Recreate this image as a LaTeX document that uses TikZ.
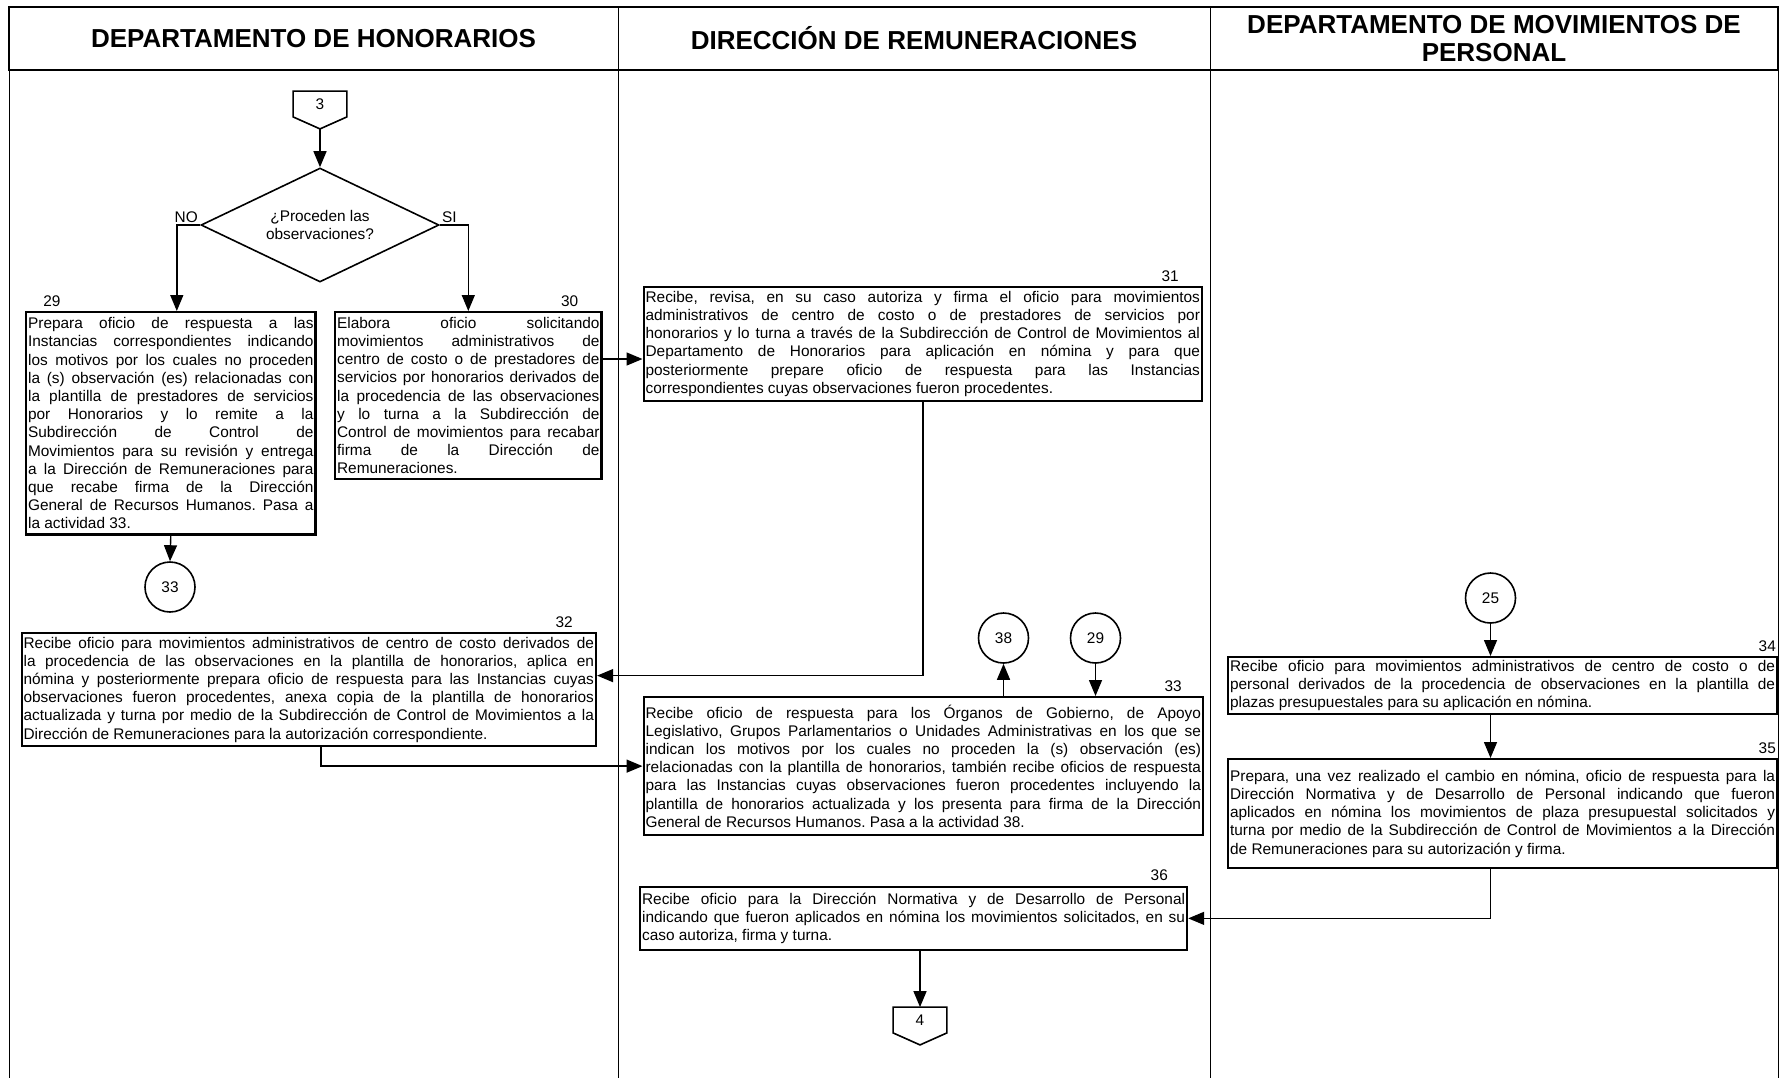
\documentclass[tikz,border=0pt]{standalone}
\usepackage{fontspec}
\setmainfont{Liberation Sans}
\usetikzlibrary{arrows.meta,shapes.geometric}

% letra de las cajas de actividad
\newcommand{\textocaja}{\fontsize{7.7}{9.1}\selectfont\frenchspacing\hyphenpenalty=10000\tolerance=9999\relax}

\begin{document}
\begin{tikzpicture}[x=0.5pt,y=-0.5pt,
    caja/.style={draw, line width=1.1pt, anchor=north west, inner sep=1pt, align=justify, font=\textocaja},
    titulo/.style={align=center, font=\fontsize{13}{14}\selectfont\bfseries},
    num/.style={inner sep=2pt, anchor=south east, font=\textocaja},
    circulo/.style={draw, circle, line width=0.8pt, minimum size=25pt, inner sep=0pt, font=\textocaja},
    conector/.style={minimum width=26.5pt, minimum height=12.5pt, inner sep=0pt, font=\textocaja},
    decision/.style={draw, diamond, aspect=2, line width=0.8pt, minimum width=119pt, minimum height=57pt, inner sep=0pt, align=center, font=\textocaja},
    flecha/.style={-{Triangle[length=8pt,width=6.5pt]}, line width=0.7pt}]
    \useasboundingbox (0,0) rectangle (1780,1078);
    % Dibuja el encabezado y las columnas
    \draw[line width=0.9pt] (9,7) rectangle (1778,70);
    \draw[line width=0.5pt] (9,7) -- (9,1078) (618,7) -- (618,1078) (1210,7) -- (1210,1078) (1778,7) -- (1778,1078);
    \node[titulo] (h1) at (313.5,38.5) {DEPARTAMENTO DE HONORARIOS};
    \node[titulo] (h2) at (914,38.5) {DIRECCIÓN DE REMUNERACIONES};
    \node[titulo] (h3) at (1494,39) {DEPARTAMENTO DE MOVIMIENTOS DE\\PERSONAL};

    % Departamento de Honorarios
    \node[conector] (c3) at (320,104) {3};
    \node[decision] (d1) at (320,225) {¿Proceden las\\observaciones?};
    \node[inner sep=1pt, anchor=south east, font=\textocaja] (no) at (d1.west) {NO};
    \node[inner sep=1pt, anchor=south west, font=\textocaja] (si) at (d1.east) {SI};
    \node[caja, text width=142.7pt, minimum height=111.2pt] (b29) at (25,311) {Prepara oficio de respuesta a las\linebreak
        Instancias correspondientes indicando\linebreak
        los motivos por los cuales no proceden\linebreak
        la (s) observación (es) relacionadas con\linebreak
        la plantilla de prestadores de servicios\linebreak
        por Honorarios y lo remite a la\linebreak
        Subdirección de Control de\linebreak
        Movimientos para su revisión y entrega\linebreak
        a la Dirección de Remuneraciones para\linebreak
        que recabe firma de la Dirección\linebreak
        General de Recursos Humanos. Pasa a\linebreak
        la actividad 33.};
    \node[caja, text width=131.2pt, minimum height=83.5pt] (b30) at (334,311) {Elabora oficio solicitando\linebreak
        movimientos administrativos de\linebreak
        centro de costo o de prestadores de\linebreak
        servicios por honorarios derivados de\linebreak
        la procedencia de las observaciones\linebreak
        y lo turna a la Subdirección de\linebreak
        Control de movimientos para recabar\linebreak
        firma de la Dirección de\linebreak
        Remuneraciones.};
    \node[circulo] (c33) at (170,587) {33};
    \node[caja, text width=285.2pt, minimum height=56.5pt] (b32) at (20.5,632) {Recibe oficio para movimientos administrativos de centro de costo derivados de\linebreak
        la procedencia de las observaciones en la plantilla de honorarios, aplica en\linebreak
        nómina y posteriormente prepara oficio de respuesta para las Instancias cuyas\linebreak
        observaciones fueron procedentes, anexa copia de la plantilla de honorarios\linebreak
        actualizada y turna por medio de la Subdirección de Control de Movimientos a la\linebreak
        Dirección de Remuneraciones para la autorización correspondiente.};

    % Dirección de Remuneraciones
    \node[caja, text width=277.2pt, minimum height=56.75pt] (b31) at (642.5,286) {Recibe, revisa, en su caso autoriza y firma el oficio para movimientos\linebreak
        administrativos de centro de costo o de prestadores de servicios por\linebreak
        honorarios y lo turna a través de la Subdirección de Control de Movimientos al\linebreak
        Departamento de Honorarios para aplicación en nómina y para que\linebreak
        posteriormente prepare oficio de respuesta para las Instancias\linebreak
        correspondientes cuyas observaciones fueron procedentes.};
    \node[circulo] (c38) at (1003.5,638) {38};
    \node[circulo] (c29) at (1095.5,638) {29};
    \node[caja, text width=277.7pt, minimum height=69pt] (b33) at (642.5,696) {Recibe oficio de respuesta para los Órganos de Gobierno, de Apoyo\linebreak
        Legislativo, Grupos Parlamentarios o Unidades Administrativas en los que se\linebreak
        indican los motivos por los cuales no proceden la (s) observación (es)\linebreak
        relacionadas con la plantilla de honorarios, también recibe oficios de respuesta\linebreak
        para las Instancias cuyas observaciones fueron procedentes incluyendo la\linebreak
        plantilla de honorarios actualizada y los presenta para firma de la Dirección\linebreak
        General de Recursos Humanos. Pasa a la actividad 38.};
    \node[caja, text width=271.5pt, minimum height=31.75pt] (b36) at (639,885.5) {Recibe oficio para la Dirección Normativa y de Desarrollo de Personal\linebreak
        indicando que fueron aplicados en nómina los movimientos solicitados, en su\linebreak
        caso autoriza, firma y turna.};
    \node[conector] (c4) at (920,1020) {4};

    % Departamento de Movimientos de Personal
    \node[circulo] (c25) at (1490.5,598) {25};
    \node[caja, text width=272.5pt, minimum height=28.5pt] (b34) at (1227,656) {Recibe oficio para movimientos administrativos de centro de costo o de\linebreak
        personal derivados de la procedencia de observaciones en la plantilla de\linebreak
        plazas presupuestales para su aplicación en nómina.};
    \node[caja, text width=272.5pt, minimum height=54.5pt] (b35) at (1227,758) {Prepara, una vez realizado el cambio en nómina, oficio de respuesta para la\linebreak
        Dirección Normativa y de Desarrollo de Personal indicando que fueron\linebreak
        aplicados en nómina los movimientos de plaza presupuestal solicitados y\linebreak
        turna por medio de la Subdirección de Control de Movimientos a la Dirección\linebreak
        de Remuneraciones para su autorización y firma.};

    % numeros de actividad
    \node[num, anchor=south west] (n29) at ([xshift=7pt]b29.north west) {29};
    \node[num] (n30) at ([xshift=-10pt]b30.north east) {30};
    \node[num] (n31) at ([xshift=-10pt]b31.north east) {31};
    \node[num] (n32) at ([xshift=-10pt]b32.north east) {32};
    \node[num] (n33) at ([xshift=-9pt]b33.north east) {33};
    \node[num] (n34) at ([xshift=1pt]b34.north east) {34};
    \node[num] (n35) at ([xshift=1pt]b35.north east) {35};
    \node[num] (n36) at ([xshift=-8pt]b36.north east) {36};

    % conectores de pagina
    \foreach \c in {c3,c4}
        \draw[line width=0.8pt] (\c.north west) -- (\c.north east) -- (\c.south east) -- ([yshift=-6pt]\c.south) -- (\c.south west) -- cycle;

    % Flujo
    \draw[flecha] ([yshift=-6pt]c3.south) -- (d1.north);
    \draw[flecha] (d1.west) -| ([xshift=3pt]b29.north);
    \draw[flecha] (d1.east) -| (b30.north);
    \draw[flecha] (b29.south) -- (c33.north);
    \draw[flecha] ([yshift=-24pt]b30.north east) -- ([yshift=-24pt]b30.north east -| b31.west);
    \draw[flecha] (b31.south) |- ([yshift=7pt]b32.east);
    \draw[flecha] ([xshift=6pt]b32.south) |- (b33.west);
    \draw[flecha] (b33.north -| c38) -- (c38.south);
    \draw[flecha] (c29.south) -- (c29.south |- b33.north);
    \draw[flecha] (c25.south) -- (c25.south |- b34.north);
    \draw[flecha] (b34.south -| c25) -- (b35.north -| c25);
    \draw[flecha] (b35.south -| c25) |- (b36.east);
    \draw[flecha] (c4.north |- b36.south) -- (c4.north);
\end{tikzpicture}
\end{document}
